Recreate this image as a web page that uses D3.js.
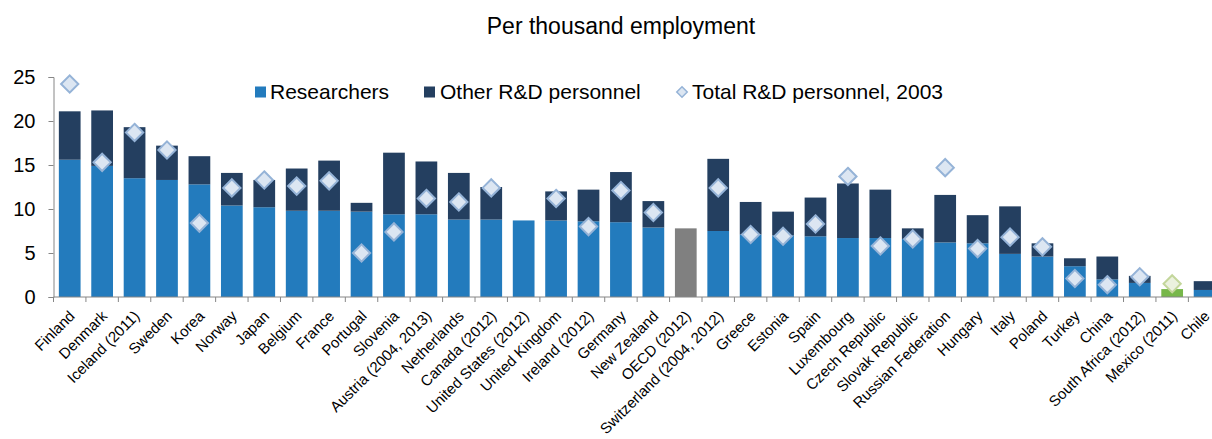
<!DOCTYPE html>
<meta charset="utf-8">
<style>
body {
  margin: 0;
  font-family: 'Liberation Sans', Arial, sans-serif;
  background: #fff;
}
.axis path, .axis line {
  stroke: #868686;
}
</style>
<body>
<div id='chart'></div>
<script src="https://d3js.org/d3.v7.min.js"></script>
<script>
var countries = ['Finland', 'Denmark', 'Iceland (2011)', 'Sweden', 'Korea', 'Norway', 'Japan', 'Belgium',
  'France', 'Portugal', 'Slovenia', 'Austria (2004, 2013)', 'Netherlands', 'Canada (2012)',
  'United States (2012)', 'United Kingdom', 'Ireland (2012)', 'Germany', 'New Zealand', 'OECD (2012)',
  'Switzerland (2004, 2012)', 'Greece', 'Estonia', 'Spain', 'Luxembourg', 'Czech Republic',
  'Slovak Republic', 'Russian Federation', 'Hungary', 'Italy', 'Poland', 'Turkey', 'China',
  'South Africa (2012)', 'Mexico (2011)', 'Chile']

var researchers = [15.6, 14.9, 13.5, 13.3, 12.8, 10.4, 10.2, 9.8, 9.8, 9.7, 9.4, 9.4, 8.8, 8.8,
  8.7, 8.7, 8.6, 8.5, 7.9, 7.8, 7.5, 7.1, 7.0, 6.9, 6.7, 6.7, 6.6, 6.2, 6.1, 4.9, 4.6, 3.5, 2.0,
  1.6, 0.9, 0.8]

var otherRD = [5.5, 6.3, 5.8, 3.9, 3.2, 3.7, 3.1, 4.8, 5.7, 1.0, 7.0, 6.0, 5.3, 3.7,
  0, 3.3, 3.6, 5.7, 3.0, 0, 8.2, 3.7, 2.7, 4.4, 6.2, 5.5, 1.2, 5.4, 3.2, 5.4, 1.5, 0.9, 2.6,
  0.8, 0, 1.0]

var total2003 = [24.2, 15.3, 18.7, 16.7, 8.4, 12.4, 13.3, 12.6, 13.2, 5.0, 7.4, 11.2, 10.8, 12.4,
  null, 11.2, 8.0, 12.1, 9.6, null, 12.4, 7.1, 6.9, 8.3, 13.7, 5.8, 6.6, 14.7, 5.5, 6.8, 5.7, 2.1,
  1.4, 2.3, 1.5, null]

var yTicks = [0, 5, 10, 15, 20, 25]

var colResearch = '#237bbd', colOther = '#243f60'
var colOECD = '#808080', colMexico = '#77b74a'

var svg = d3.select('#chart')
            .append('svg')
            .attr('width', 1212)
            .attr('height', 439)
            .style('display', 'block')

var x = d3.scaleBand()
  .domain(countries)
  .range([53.5, 1220.8])
  .paddingInner(0.33)
  .paddingOuter(0.165)

var y = d3.scaleLinear()
  .domain([0, 25])
  .range([297, 77])

// title
svg.append('text')
   .attr('x', 621)
   .attr('y', 34)
   .attr('text-anchor', 'middle')
   .style('font-size', '23px')
   .text('Per thousand employment')

// y axis
var yAxis = svg.append('g')
  .attr('class', 'axis')
  .attr('transform', 'translate(53.5,0)')
  .call(d3.axisLeft(y).tickValues(yTicks).tickSize(5).tickPadding(13))
yAxis.selectAll('text').style('font-size', '20px').style('font-family', "'Liberation Sans', Arial").attr('fill', '#000')

// bars
var rows = countries.map(function(c, i) {
  return {c: c, r: researchers[i], o: otherRD[i], t: total2003[i]}
})

svg.selectAll('rect.res')
  .data(rows)
  .enter().append('rect')
  .attr('class', 'res')
  .attr('x', function(d) { return x(d.c) })
  .attr('width', x.bandwidth())
  .attr('y', function(d) { return y(d.r) })
  .attr('height', function(d) { return y(0) - y(d.r) })
  .attr('fill', function(d) {
    if (d.c == 'OECD (2012)') return colOECD
    if (d.c == 'Mexico (2011)') return colMexico
    return colResearch
  })

svg.selectAll('rect.oth')
  .data(rows.filter(function(d) { return d.o > 0 }))
  .enter().append('rect')
  .attr('class', 'oth')
  .attr('x', function(d) { return x(d.c) })
  .attr('width', x.bandwidth())
  .attr('y', function(d) { return y(d.r + d.o) })
  .attr('height', function(d) { return y(d.r) - y(d.r + d.o) })
  .attr('fill', colOther)

// x axis
var xAxis = svg.append('g')
  .attr('class', 'axis')
  .attr('transform', 'translate(0,297)')
xAxis.append('line')
  .attr('x1', 53.5).attr('x2', 1220.8)
  .attr('y1', 0).attr('y2', 0)
xAxis.selectAll('line.tk')
  .data(countries)
  .enter().append('line')
  .attr('class', 'tk')
  .attr('x1', function(d) { return x(d) - x.step() * x.paddingInner() / 2 })
  .attr('x2', function(d) { return x(d) - x.step() * x.paddingInner() / 2 })
  .attr('y1', 0).attr('y2', 5)
xAxis.selectAll('text')
  .data(countries)
  .enter().append('text')
  .attr('text-anchor', 'end')
  .attr('transform', function(d) {
    return 'translate(' + (x(d) + x.bandwidth() / 2 + 6) + ',20) rotate(-45)'
  })
  .style('font-size', '15px')
  .text(function(d) { return d })

// 2003 diamonds
var diamond = d3.symbol().type(d3.symbolDiamond2).size(190)
svg.selectAll('path.dia')
  .data(rows.filter(function(d) { return d.t != null }))
  .enter().append('path')
  .attr('class', 'dia')
  .attr('d', diamond)
  .attr('transform', function(d) {
    return 'translate(' + (x(d.c) + x.bandwidth() / 2) + ',' + y(d.t) + ')'
  })
  .attr('fill', function(d) { return d.c == 'Mexico (2011)' ? '#ebf1de' : '#dce6f2' })
  .attr('stroke', function(d) { return d.c == 'Mexico (2011)' ? '#c3d69b' : '#95b3d7' })
  .attr('stroke-width', 2)

// legend
var legend = svg.append('g').style('font-size', '21px')
legend.append('rect').attr('x', 255).attr('y', 86.5).attr('width', 11).attr('height', 11).attr('fill', colResearch)
legend.append('text').attr('x', 270).attr('y', 99).text('Researchers')
legend.append('rect').attr('x', 424).attr('y', 86.5).attr('width', 11).attr('height', 11).attr('fill', colOther)
legend.append('text').attr('x', 440).attr('y', 99).text('Other R&D personnel')
legend.append('path')
  .attr('d', d3.symbol().type(d3.symbolDiamond2).size(70))
  .attr('transform', 'translate(682,92)')
  .attr('fill', '#dce6f2').attr('stroke', '#95b3d7').attr('stroke-width', 1.5)
legend.append('text').attr('x', 692).attr('y', 99).text('Total R&D personnel, 2003')
</script>
</body>
